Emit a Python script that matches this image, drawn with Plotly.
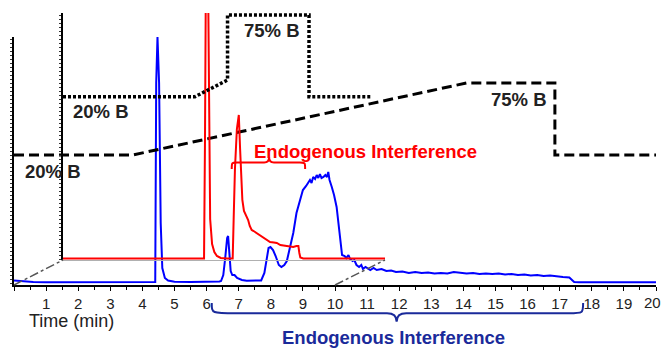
import plotly.graph_objects as go

W, H = 662, 348

# ---------------- data ----------------
# Front chromatogram (blue), time in min, intensity in arbitrary units
blue_t = [0, 0.3, 0.6, 1.0, 2.0, 3.0, 4.0, 4.38, 4.40, 4.43, 4.47, 4.52, 4.57, 4.62, 4.70, 4.80, 5.0,
          5.5, 6.0, 6.4, 6.45, 6.52, 6.58, 6.64, 6.67, 6.71, 6.75, 6.80, 6.87, 6.95, 7.1, 7.25, 7.5,
          7.7, 7.8, 7.87, 7.93, 7.99, 8.07, 8.15, 8.25, 8.33, 8.42, 8.5, 8.6, 8.7, 8.8, 8.9, 9.0,
          9.1, 9.17, 9.22, 9.27, 9.32, 9.38, 9.43, 9.48, 9.53, 9.58, 9.64, 9.7, 9.75, 9.79, 9.83,
          9.9, 9.97, 10.05, 10.1, 10.16, 10.22, 10.3, 10.35, 10.42, 10.47, 10.55, 10.6, 10.67,
          10.75, 10.82, 10.87, 10.95, 11.0, 11.1, 11.2, 11.3, 11.45, 11.6, 11.75, 11.9, 12.1,
          12.3, 12.5, 12.7, 12.9, 13.1, 13.3, 13.5, 13.7, 13.9, 14.1, 14.3, 14.5, 14.7, 14.9,
          15.1, 15.3, 15.5, 15.7, 15.9, 16.1, 16.3, 16.5, 16.7, 16.9, 17.1, 17.3, 17.38, 17.45,
          17.6, 18, 19, 20]
blue_i = [2.5, 1.5, 1.0, 0.8, 0.7, 0.7, 0.7, 1.0, 1.0, 200, 246, 200, 60, 15, 5, 2.5, 1.2,
          1.0, 1.0, 1.5, 2, 8, 25, 45, 47, 30, 12, 8, 8, 5, 3, 2.3, 2,
          2.5, 10, 25, 35, 36, 33, 27, 18, 16, 18, 22, 35, 50, 70, 82, 93,
          97, 101, 103, 100, 106, 104, 108, 105, 109, 105, 106, 108, 106, 111, 103,
          96, 88, 76, 60, 40, 28, 27, 25, 28, 24, 22, 23, 18,
          16, 18, 14, 16, 15, 13, 15, 13, 14, 12, 12.5, 11, 11.5,
          10, 11, 10, 10.5, 9.5, 10, 9.5, 11, 10, 9.5, 10, 9, 9.5, 9,
          9.5, 8.5, 9, 8, 8.5, 7.5, 8, 7, 7.5, 6.5, 6, 5.5, 3, 1,
          0.8, 0.8, 0.8, 0.8]

# Back chromatogram (red), time in min (0-10 panel), intensity
red_t = [0, 1, 2, 3, 4, 4.38, 4.41, 4.44, 4.50, 4.53, 4.57, 4.63, 4.70, 4.78, 4.90, 5.1, 5.27,
         5.30, 5.34, 5.40, 5.46, 5.50, 5.53, 5.57, 5.62, 5.68, 5.75, 5.80, 5.86, 5.92, 6.02,
         6.10, 6.22, 6.30, 6.43, 6.55, 6.64, 6.75, 6.85, 6.95, 7.05, 7.15, 7.25, 7.31, 7.34,
         7.37, 7.46, 8, 9, 10]
red_i = [0.5, 0.5, 0.5, 0.5, 0.5, 0.5, 120, 300, 300, 150, 40, 15, 7, 3, 1, 0.5, 0.5,
         40, 90, 130, 144, 110, 80, 59, 48, 44, 39, 33, 29, 28, 26,
         24, 22, 20, 17, 16.5, 16, 14, 13.5, 13, 12, 12, 13, 13, 6,
         1.5, 0.5, 0.5, 0.5, 0.5]

# Gradient programs (%B)
front_grad_t = [0, 3.7, 14.1, 16.85, 16.85, 20]
front_grad_b = [20, 20, 75, 75, 20, 20]
back_grad_t = [0, 4.1, 5.11, 5.11, 7.64, 7.64, 9.57]
back_grad_b = [20, 20, 31.2, 75, 75, 20, 20]

tick_vals = list(range(0, 21))
tick_text = [""] + [str(v) for v in range(1, 21)]
minor_vals = [v + 0.5 for v in range(0, 20)]

# ---------------- layout helpers ----------------
def px(x, y):
    return x / W, 1 - y / H

FONT = "Liberation Sans, Arial, sans-serif"
BLUE = "#0000ff"
RED = "#ff0000"
NAVY = "#1a2a9a"

# front panel pixel frame
fx0, fx1, fy_top, fy_bot = 14, 656, 37, 285
# back panel pixel frame (0-10 min)
bx0, bx1, by_top, by_bot = 63, 385, 13, 260

fig = go.Figure()

fig.add_trace(go.Scatter(x=front_grad_t, y=front_grad_b, xaxis="x", yaxis="y3", mode="lines",
                         line=dict(color="black", width=3, dash="10px,5px"), hoverinfo="skip"))
fig.add_trace(go.Scatter(x=back_grad_t, y=back_grad_b, xaxis="x2", yaxis="y4", mode="lines",
                         line=dict(color="black", width=3.5, dash="3px,2px"), hoverinfo="skip"))
fig.add_trace(go.Scatter(x=red_t, y=red_i, xaxis="x2", yaxis="y2", mode="lines",
                         line=dict(color=RED, width=2), hoverinfo="skip"))
fig.add_trace(go.Scatter(x=blue_t, y=blue_i, xaxis="x", yaxis="y", mode="lines",
                         line=dict(color=BLUE, width=2), hoverinfo="skip"))

# the last tick label sits at the very right edge; draw it as an annotation kept inside the page
axis_text = tick_text[:-1] + [""]

fig.update_layout(
    width=W, height=H, autosize=False,
    margin=dict(l=0, r=0, t=0, b=0),
    paper_bgcolor="white", plot_bgcolor="rgba(0,0,0,0)",
    showlegend=False,
    font=dict(family=FONT, color="#222222"),
    xaxis=dict(domain=[fx0 / W, fx1 / W], range=[0, 20], anchor="y",
               showline=True, linecolor="black", linewidth=1.5, showgrid=False, zeroline=False,
               tickmode="array", tickvals=tick_vals, ticktext=axis_text,
               ticks="outside", ticklen=4, tickcolor="black", tickwidth=1,
               minor=dict(tickmode="array", tickvals=minor_vals, ticks="outside", ticklen=3,
                          tickcolor="black"),
               tickfont=dict(size=15, color="#222222", family=FONT), ticklabelstandoff=0),
    yaxis=dict(domain=[1 - fy_bot / H, 1 - fy_top / H], range=[-2, 246], anchor="x",
               showline=True, linecolor="black", linewidth=2, showgrid=False, zeroline=False,
               ticks="outside", ticklen=2, dtick=4, tickcolor="#333333", showticklabels=False),
    yaxis3=dict(overlaying="y", range=[-79.3, 110.1], visible=False),
    xaxis2=dict(domain=[bx0 / W, bx1 / W], range=[0, 10], anchor="y2",
                showline=True, linecolor="#b0b0b0", linewidth=1, showgrid=False, zeroline=False,
                ticks="", showticklabels=False),
    yaxis2=dict(domain=[1 - by_bot / H, 1 - by_top / H], range=[-1, 246], anchor="x2",
                showline=True, linecolor="black", linewidth=2, showgrid=False, zeroline=False,
                ticks="outside", ticklen=2, dtick=4, tickcolor="#333333", showticklabels=False),
    yaxis4=dict(overlaying="y2", anchor="x2", range=[-90, 76.35], visible=False),
)

fig.add_annotation(text=tick_text[-1], xref="x", yref="paper", x=tick_vals[-1], y=1 - 302 / H,
                   xanchor="center", yanchor="middle", xshift=-4, showarrow=False, borderpad=0,
                   font=dict(size=15, color="#222222", family=FONT))

# dash-dot connectors between front and back panels (derived from the panel frames)
x10_front = fx0 + (fx1 - fx0) * 10 / 20
for (xa, ya, xb, yb) in [(fx0, fy_bot, bx0, by_bot), (x10_front, fy_bot, bx1, by_bot)]:
    p0, p1 = px(xa, ya), px(xb, yb)
    fig.add_shape(type="line", xref="paper", yref="paper", x0=p0[0], y0=p0[1], x1=p1[0], y1=p1[1],
                  line=dict(color="#555555", width=1.5, dash="dashdot"))

# curly braces
def brace(x0, x1, xc, yE, yM, yT, dl, dr, dc):
    yE, yM, yT = 1 - yE / H, 1 - yM / H, 1 - yT / H
    return (f"M {x0},{yE} C {x0},{yM} {x0},{yM} {x0 + dl},{yM} "
            f"L {xc - dc},{yM} Q {xc},{yM} {xc},{yT} Q {xc},{yM} {xc + dc},{yM} "
            f"L {x1 - dr},{yM} C {x1},{yM} {x1},{yM} {x1},{yE}")

fig.add_shape(type="path", xref="x", yref="paper",
              path=brace(6.16, 17.73, 11.92, 303, 313.3, 321.7, 0.75, 0.45, 0.3),
              line=dict(color=NAVY, width=2))
fig.add_shape(type="path", xref="x2", yref="paper",
              path=brace(5.24, 7.52, 6.40, 169, 162.5, 157.3, 0.16, 0.16, 0.15),
              line=dict(color=RED, width=2))

def label(text, x, y, size, color, bold=True):
    xp, yp = px(x, y)
    fig.add_annotation(text=f"<b>{text}</b>" if bold else text, xref="paper", yref="paper",
                       x=xp, y=yp, xanchor="center", yanchor="middle", showarrow=False,
                       font=dict(size=size, color=color, family=FONT))

label("75% B", 272, 31, 18.5, "#222222")
label("20% B", 101, 111, 18.5, "#222222")
label("20% B", 53, 171, 18.5, "#222222")
label("75% B", 519, 99, 18.5, "#222222")
label("Endogenous Interference", 366, 151, 18.5, RED)
label("Endogenous Interference", 393, 337, 18.5, NAVY)
label("Time (min)", 71, 321, 18, "#222222", bold=False)

fig.write_html(
    "out.html",
    config={"responsive": False, "displayModeBar": False},
    post_script=("document.documentElement.style.margin='0';document.body.style.margin='0';"
                 "document.documentElement.style.overflow='hidden';document.body.style.overflow='hidden';"),
)
